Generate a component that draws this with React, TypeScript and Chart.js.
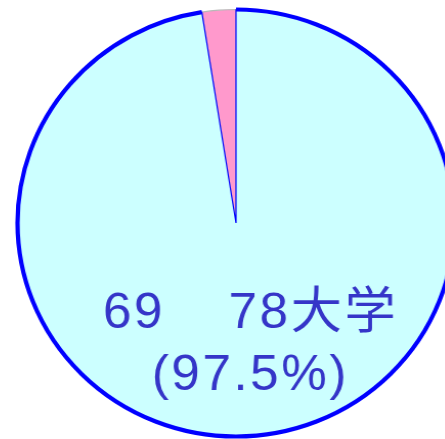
import React, { useEffect, useRef } from "react";
import { Chart, registerables } from "chart.js";

Chart.register(...registerables);

const categories = ["その他", "大学"];
const values = [2, 78];
const sliceColors = ["#ff99cc", "#ccffff"];
const sliceBorders = ["#b8b8b8", "#0000ff"];
const labelLeft = "69";
const labelRight = "78大学";
const labelLine2 = "(97.5%)";

export default function App() {
  const ref = useRef<HTMLCanvasElement | null>(null);

  useEffect(() => {
    document.body.style.margin = "0";
    const canvas = ref.current!;
    const total = values.reduce((a, b) => a + b, 0);
    const rotation = (-360 * values[0]) / total;

    const outerRing = {
      id: "outerRing",
      afterDatasetsDraw(chart: any) {
        const meta = chart.getDatasetMeta(0);
        const arc = meta.data[1];
        const { x, y, startAngle, endAngle, outerRadius } = arc.getProps(
          ["x", "y", "startAngle", "endAngle", "outerRadius"],
          true
        );
        const ctx = chart.ctx;
        ctx.save();
        ctx.beginPath();
        ctx.arc(x, y, outerRadius, startAngle, endAngle);
        ctx.lineWidth = 4.2;
        ctx.strokeStyle = "#0000ff";
        ctx.stroke();

        ctx.fillStyle = "#3535c8";
        ctx.font = '50px "Liberation Sans", Arial, "Noto Sans CJK JP", sans-serif';
        (ctx as any).letterSpacing = "2.5px";
        ctx.textBaseline = "alphabetic";
        ctx.textAlign = "left";
        ctx.fillText(labelLeft, x - 130, y + 105);
        ctx.textAlign = "right";
        ctx.fillText(labelRight, x + 158.4, y + 105);
        ctx.textAlign = "center";
        ctx.fillText(labelLine2, x + 14, y + 167);
        ctx.restore();
      },
    };

    const chart = new Chart(canvas, {
      type: "pie",
      data: {
        labels: categories,
        datasets: [
          {
            data: values,
            backgroundColor: sliceColors,
            borderColor: sliceBorders,
            borderWidth: 1.2,
            radius: 213.5,
          } as any,
        ],
      },
      options: {
        responsive: false,
        animation: false,
        events: [],
        rotation,
        layout: { padding: 0 },
        plugins: {
          legend: { display: false },
          tooltip: { enabled: false },
        },
      },
      plugins: [outerRing],
    });
    return () => chart.destroy();
  }, []);

  return (
    <div
      style={{
        position: "fixed",
        left: 0,
        top: 0,
        width: 445,
        height: 439,
        overflow: "hidden",
        background: "#ffffff",
      }}
    >
      <div
        style={{
          width: 472,
          height: 446,
          transform: "scaleX(1.0234)",
          transformOrigin: "236px 223px",
        }}
      >
        <canvas ref={ref} width={472} height={446} />
      </div>
    </div>
  );
}
